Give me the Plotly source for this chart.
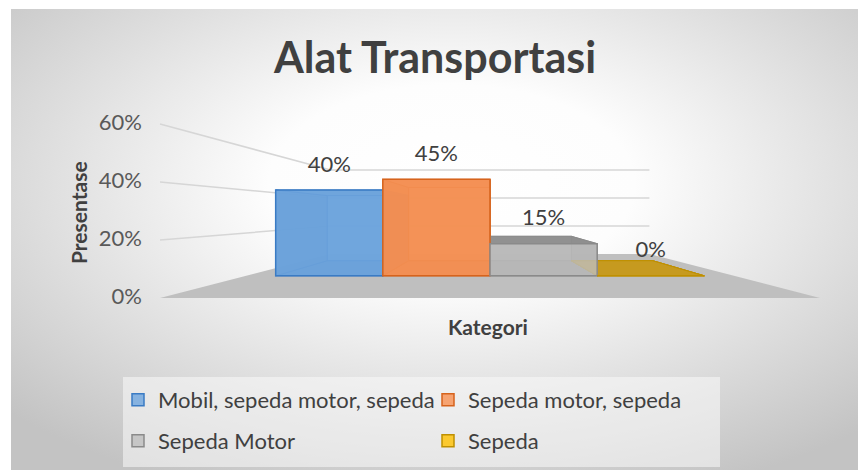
import base64
import plotly.graph_objects as go

# ---------------- data ----------------
series = ["Mobil, sepeda motor, sepeda", "Sepeda motor, sepeda", "Sepeda Motor", "Sepeda"]
values = [40, 45, 15, 0]
category = ["Kategori"]
y_ticks = [0, 20, 40, 60]
tick_labels = ["0%", "20%", "40%", "60%"]
data_labels = ["40%", "45%", "15%", "0%"]

# ---------------- styles ----------------
front_fill = ["rgba(112,166,222,0.82)", "rgba(247,148,88,0.84)", "rgba(190,190,190,0.80)", "rgba(255,192,0,0.80)"]
edge_col = ["#3A7BC4", "#D6631C", "#8A8A8A", "#BF9000"]
inner_fill = ["#5F9CD6", "#E27E40", "#A8A8A8", "#C89B1E"]
side_fill = ["#4E8CC8", "#D96F2F", "#999999", "#C89B1E"]
top_fill = ["#5A96CF", "#E2773A", "#8E8E8E", "#C69A1E"]
legend_group = ["legend", "legend", "legend2", "legend2"]
FONT = "Lato, Carlito, Calibri, sans-serif"

W, H = 858, 470
VX, VY = 490.0, 213.0          # vanishing point (px)
FLOOR_L, FLOOR_R = 160.0, 820.0  # floor front edge (px at depth 0)
FLOOR_Y0 = 298.0                 # 0% level at front (px)
PX_PER_PCT = 2.9                 # px per % at front
K = 1.07                         # perspective strength (depth 0..1)
Z_BAR = (0.33, 0.73)             # bar depth range
GROUP_FRAC = 580.0 / 660.0       # part of the category filled by bars


def s_of(z):
    return 1.0 / (1.0 + K * z)


def proj(X, v, z):
    s = s_of(z)
    wy = FLOOR_Y0 - PX_PER_PCT * v
    return VX + s * (X - VX), VY + s * (wy - VY)


def poly(pts):
    xs, ys = zip(*[proj(*p) for p in pts])
    return list(xs) + [xs[0]], list(ys) + [ys[0]]


fig = go.Figure()

# floor
fx, fy = poly([(FLOOR_L, 0, 0), (FLOOR_R, 0, 0), (FLOOR_R, 0, 1), (FLOOR_L, 0, 1)])
fig.add_trace(go.Scatter(x=fx, y=fy, fill="toself", fillcolor="#BFBFBF", mode="lines",
                         line=dict(width=0, color="#BFBFBF"), showlegend=False, hoverinfo="skip"))

# gridlines (side wall + back wall)
for v in y_ticks[1:]:
    p0 = proj(FLOOR_L, v, 0)
    p1 = proj(FLOOR_L, v, 1)
    p2 = proj(FLOOR_R, v, 1)
    fig.add_trace(go.Scatter(x=[p0[0], p1[0], p2[0]], y=[p0[1], p1[1], p2[1]], mode="lines",
                             line=dict(color="#D6D6D6", width=1.5), showlegend=False, hoverinfo="skip"))

# bar geometry
cat_w = FLOOR_R - FLOOR_L
grp_w = cat_w * GROUP_FRAC
bar_w = grp_w / len(values)
left0 = (FLOOR_L + FLOOR_R) / 2 - grp_w / 2
z0, z1 = Z_BAR

for i, v in enumerate(values):
    xl = left0 + i * bar_w
    xr = xl + bar_w
    faces = []
    faces.append(([(xl, 0, z1), (xr, 0, z1), (xr, v, z1), (xl, v, z1)], inner_fill[i]))   # back
    faces.append(([(xl, 0, z0), (xr, 0, z0), (xr, 0, z1), (xl, 0, z1)], side_fill[i]))    # bottom
    faces.append(([(xl, 0, z0), (xl, 0, z1), (xl, v, z1), (xl, v, z0)], side_fill[i]))    # left
    faces.append(([(xr, 0, z0), (xr, 0, z1), (xr, v, z1), (xr, v, z0)], side_fill[i]))    # right
    faces.append(([(xl, v, z0), (xr, v, z0), (xr, v, z1), (xl, v, z1)], top_fill[i]))     # top
    for pts, col in faces:
        px, py = poly(pts)
        fig.add_trace(go.Scatter(x=px, y=py, fill="toself", fillcolor=col, mode="lines",
                                 line=dict(color=edge_col[i], width=1), opacity=0.9,
                                 showlegend=False, hoverinfo="skip"))

# data labels above bar fronts
lx, ly = [], []
for i, v in enumerate(values):
    xc = left0 + (i + 0.5) * bar_w
    px, py = proj(xc, v, z0)
    lx.append(px)
    ly.append(py - 24)
fig.add_trace(go.Scatter(x=lx, y=ly, mode="text", text=data_labels,
                         textfont=dict(family=FONT, size=22, color="#404040"),
                         showlegend=False, hoverinfo="skip"))

# value-axis tick labels on front-left edge
tx, ty = [], []
for v in y_ticks:
    px, py = proj(FLOOR_L, v, 0)
    tx.append(px - 18)
    ty.append(py)
fig.add_trace(go.Scatter(x=tx, y=ty, mode="text", text=tick_labels, textposition="middle left",
                         textfont=dict(family=FONT, size=22, color="#595959"),
                         showlegend=False, hoverinfo="skip"))

# front faces as real bars on a second subplot aligned with the bar-front plane
s0 = s_of(z0)
dom_l = VX + s0 * (FLOOR_L - VX)
dom_r = VX + s0 * (FLOOR_R - VX)
y_zero = VY + s0 * (FLOOR_Y0 - VY)
ppp = PX_PER_PCT * s0
for i, (name, v) in enumerate(zip(series, values)):
    fig.add_trace(go.Bar(x=category, y=[v], name=name, xaxis="x2", yaxis="y2",
                         marker=dict(color=front_fill[i], line=dict(color=edge_col[i], width=1.5)),
                         legend=legend_group[i], hoverinfo="skip"))

# background gradient of the chart area
svg = ('<svg xmlns="http://www.w3.org/2000/svg" width="847" height="461">'
       '<defs><radialGradient id="g" cx="0.52" cy="0.38" r="0.72">'
       '<stop offset="0" stop-color="#ffffff"/><stop offset="0.3" stop-color="#fdfdfd"/>'
       '<stop offset="1" stop-color="#c3c3c3"/></radialGradient></defs>'
       '<rect width="100%" height="100%" fill="url(#g)"/></svg>')
src = "data:image/svg+xml;base64," + base64.b64encode(svg.encode()).decode()

fig.update_layout(
    width=W, height=H,
    margin=dict(l=0, r=0, t=0, b=0),
    paper_bgcolor="white",
    plot_bgcolor="rgba(0,0,0,0)",
    barmode="group", bargap=1 - GROUP_FRAC, bargroupgap=0,
    xaxis=dict(range=[0, W], domain=[0, 1], visible=False, fixedrange=True),
    yaxis=dict(range=[H, 0], domain=[0, 1], visible=False, fixedrange=True),
    xaxis2=dict(domain=[dom_l / W, dom_r / W], anchor="y2", range=[-0.5, 0.5], visible=False, fixedrange=True),
    yaxis2=dict(domain=[0, 1], anchor="x2", range=[(y_zero - H) / ppp, y_zero / ppp], visible=False,
                fixedrange=True),
    hovermode=False,
    title=dict(text="Alat Transportasi", x=435 / W, xanchor="center", y=1 - 58 / H, yanchor="middle",
               yref="container", font=dict(family=FONT, size=43, color="#404040", weight="bold")),
    images=[dict(source=src, xref="paper", yref="paper", x=11 / W, y=1 - 9 / H,
                 sizex=(W - 11) / W, sizey=(H - 9) / H, sizing="stretch", layer="below",
                 xanchor="left", yanchor="top")],
    shapes=[dict(type="rect", xref="paper", yref="paper", x0=123 / W, x1=720 / W,
                 y0=1 - 467 / H, y1=1 - 377 / H, fillcolor="rgba(250,250,250,0.55)",
                 line=dict(width=0), layer="below")],
    annotations=[
        dict(text="Presentase", x=78 / W, y=1 - 213 / H, xref="paper", yref="paper", showarrow=False,
             xanchor="center", yanchor="middle",
             textangle=-90, font=dict(family=FONT, size=21, color="#404040", weight="bold")),
        dict(text="Kategori", x=488 / W, y=1 - 326 / H, xref="paper", yref="paper", showarrow=False,
             xanchor="center", yanchor="middle",
             font=dict(family=FONT, size=21, color="#404040", weight="bold")),
    ],
    legend=dict(orientation="h", x=118 / W, y=1 - 400 / H, xanchor="left", yanchor="middle",
                entrywidth=265, entrywidthmode="pixels", bgcolor="rgba(0,0,0,0)",
                font=dict(family=FONT, size=22, color="#404040"), traceorder="normal"),
    legend2=dict(orientation="h", x=118 / W, y=1 - 441 / H, xanchor="left", yanchor="middle",
                 entrywidth=265, entrywidthmode="pixels", bgcolor="rgba(0,0,0,0)",
                 font=dict(family=FONT, size=22, color="#404040"), traceorder="normal"),
)

fig.write_html("out.html", config={"displayModeBar": False},
               post_script="document.body.style.margin='0';")
